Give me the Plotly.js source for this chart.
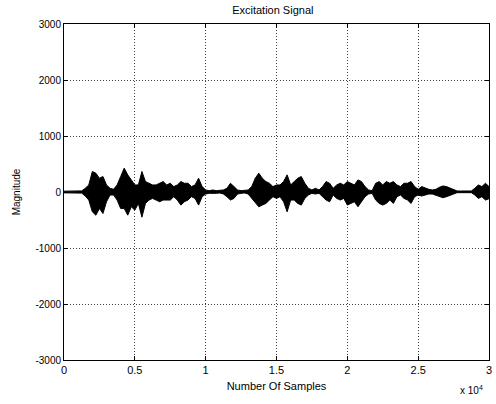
<!DOCTYPE html>
<html>
<head>
<meta charset="utf-8">
<script src="https://cdn.plot.ly/plotly-3.0.1.min.js"></script>
<style>html,body{margin:0;padding:0;background:#fff;}#chart{width:496px;height:404px;}</style>
</head>
<body>
<div id="chart"></div>
<script>
// envelope of the excitation signal, one value every 250 samples (0 .. 30000)
const sampleStep = 250;
const upperEnvelope = [15,15,15,15,15,20,66,126,366,336,246,276,126,66,48,126,276,426,306,216,
  126,126,366,186,156,126,126,156,186,126,156,96,126,186,156,156,96,126,246,96,
  36,24,36,24,24,36,66,156,96,36,24,24,36,96,246,336,246,186,156,96,
  126,126,186,306,126,186,246,276,156,66,36,66,36,96,186,156,66,126,156,126,
  186,156,126,216,186,96,36,24,156,186,126,186,156,186,126,96,156,156,186,96,
  48,96,66,48,36,48,84,108,96,66,36,18,18,18,18,18,66,126,96,156,96];
const lowerEnvelope = [-15,-15,-15,-15,-15,-20,-72,-144,-354,-414,-294,-384,-174,-54,-54,-144,-294,-294,-414,-264,
  -324,-204,-450,-204,-144,-114,-144,-174,-144,-144,-144,-84,-144,-234,-174,-144,-84,-114,-234,-84,
  -36,-24,-30,-24,-18,-36,-84,-144,-114,-36,-24,-18,-36,-114,-204,-264,-234,-204,-144,-84,
  -114,-84,-174,-354,-144,-144,-204,-234,-114,-54,-24,-36,-24,-84,-144,-174,-54,-114,-144,-114,
  -234,-204,-174,-264,-174,-84,-36,-24,-144,-204,-234,-204,-144,-204,-84,-54,-114,-144,-204,-84,
  -54,-72,-54,-36,-36,-54,-72,-102,-84,-54,-36,-12,-12,-12,-12,-12,-54,-114,-84,-144,-120];
const xTickVals = [0,5000,10000,15000,20000,25000,30000];
const xTickText = ['0','0.5','1','1.5','2','2.5','3'];
const yTickVals = [-3000,-2000,-1000,0,1000,2000,3000];
const yTickText = ['-3000','-2000','-1000','0','1000','2000','3000'];

const samples = upperEnvelope.map((_, i) => i * sampleStep);

const traces = [
  {x: samples, y: upperEnvelope, type: 'scatter', mode: 'lines',
   line: {color: '#000', width: 1}, hoverinfo: 'skip'},
  {x: samples, y: lowerEnvelope, type: 'scatter', mode: 'lines', fill: 'tonexty',
   fillcolor: '#000', line: {color: '#000', width: 1}, hoverinfo: 'skip'}
];

const fontFam = '"Liberation Sans", Arial, Helvetica, sans-serif';
const layout = {
  width: 496, height: 404,
  margin: {l: 64, r: 7, t: 24, b: 44},
  paper_bgcolor: '#fff', plot_bgcolor: '#fff',
  showlegend: false,
  font: {family: fontFam, size: 10, color: '#000'},
  title: {text: 'Excitation Signal', font: {size: 11, family: fontFam, color: '#000'},
          x: 0.55, xanchor: 'center', y: 0.985, yanchor: 'top'},
  xaxis: {
    range: [0, 30000], tickvals: xTickVals, ticktext: xTickText,
    showline: true, linecolor: '#000', linewidth: 1, mirror: 'ticks',
    ticks: 'inside', ticklen: 4, tickcolor: '#000',
    showgrid: true, gridcolor: '#444', griddash: '1px,2px', gridwidth: 1,
    zeroline: false, tickfont: {size: 11},
    title: {text: 'Number Of Samples', font: {size: 11}, standoff: 7}
  },
  yaxis: {
    range: [-3000, 3000], tickvals: yTickVals, ticktext: yTickText,
    showline: true, linecolor: '#000', linewidth: 1, mirror: 'ticks',
    ticks: 'inside', ticklen: 4, tickcolor: '#000',
    showgrid: true, gridcolor: '#444', griddash: '1px,2px', gridwidth: 1,
    zeroline: false, tickfont: {size: 10},
    title: {text: 'Magnitude', font: {size: 10}, standoff: 12}
  },
  annotations: [{
    xref: 'paper', yref: 'paper', x: 0.99, y: -0.09, xanchor: 'right', yanchor: 'middle',
    text: 'x 10<sup>4</sup>', showarrow: false, font: {size: 10}
  }]
};

Plotly.newPlot('chart', traces, layout, {staticPlot: true, displayModeBar: false});
</script>
</body>
</html>
